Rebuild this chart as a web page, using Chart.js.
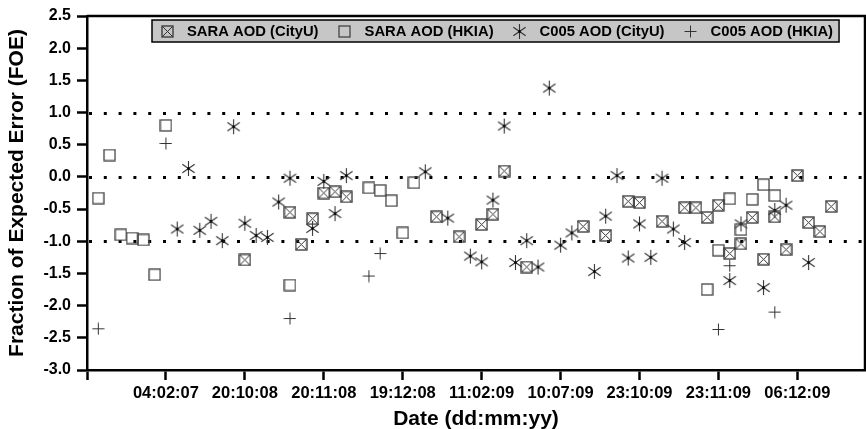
<!DOCTYPE html>
<html>
<head>
<meta charset="utf-8">
<script src="https://cdn.jsdelivr.net/npm/chart.js@4/dist/chart.umd.min.js"></script>
<style>
  html, body { margin: 0; padding: 0; background: #fff; }
  #wrap { width: 866px; height: 429px; }
</style>
</head>
<body>
<div id="wrap"><canvas id="foeChart" width="866" height="429"></canvas></div>
<script>
/* ── Data (observation index on x, FOE on y) ── */
const tickPos    = [0, 7, 14, 21, 28, 35, 42, 49, 56, 63];
const tickLabels = ['', '04:02:07', '20:10:08', '20:11:08', '19:12:08', '11:02:09',
                    '10:07:09', '23:10:09', '23:11:09', '06:12:09'];
const refLines   = [1, 0, -1];

const saraCityX = [14, 18, 19, 20, 21, 22, 23, 31, 33, 35, 36, 37, 39, 44, 46, 48, 49,
                   51, 53, 54, 55, 56, 57, 58, 59, 60, 61, 62, 63, 64, 65, 66];
const saraCityY = [-1.29, -0.55, -1.05, -0.65, -0.25, -0.23, -0.31, -0.62, -0.93, -0.74, -0.58,
                   0.09, -1.40, -0.77, -0.91, -0.38, -0.40, -0.69, -0.48, -0.48, -0.63, -0.44,
                   -1.19, -1.04, -0.63, -1.28, -0.62, -1.13, 0.02, -0.71, -0.85, -0.46];

const saraHkiaX = [1, 2, 3, 4, 5, 6, 7, 18, 25, 26, 27, 28, 29, 55, 56, 57, 58, 59, 60, 61];
const saraHkiaY = [-0.33, 0.34, -0.90, -0.95, -0.98, -1.52, 0.80, -1.68, -0.17, -0.21, -0.37,
                   -0.87, -0.09, -1.75, -1.14, -0.34, -0.82, -0.35, -0.12, -0.29];

const c005CityX = [8, 9, 10, 11, 12, 13, 14, 15, 16, 17, 18, 20, 21, 22, 23, 30, 32, 34, 35, 36,
                   37, 38, 39, 40, 41, 42, 43, 45, 46, 47, 48, 49, 50, 51, 52, 53, 57, 58, 60,
                   61, 62, 64];
const c005CityY = [-0.81, 0.13, -0.83, -0.69, -0.99, 0.78, -0.72, -0.91, -0.94, -0.39, -0.02,
                   -0.80, -0.07, -0.57, 0.02, 0.08, -0.64, -1.23, -1.32, -0.36, 0.79, -1.33,
                   -0.99, -1.40, 1.38, -1.06, -0.87, -1.47, -0.61, 0.02, -1.26, -0.73, -1.25,
                   -0.02, -0.81, -1.02, -1.61, -0.73, -1.72, -0.52, -0.44, -1.33];

const c005HkiaX = [1, 7, 18, 25, 26, 56, 57, 61];
const c005HkiaY = [-2.36, 0.52, -2.20, -1.54, -1.19, -2.37, -1.38, -2.10];

const FONT = '"Liberation Sans", Arial, sans-serif';

/* ── Marker glyphs ── */
function makeMarker(size, draw) {
  const c = document.createElement('canvas');
  c.width = c.height = size;
  const g = c.getContext('2d');
  draw(g, size);
  return c;
}

const mkBoxX = makeMarker(13, (g, s) => {
  g.strokeStyle = '#333'; g.lineWidth = 1.3;
  g.strokeRect(1, 1, s - 2, s - 2);
  g.beginPath();
  g.moveTo(1.5, 1.5); g.lineTo(s - 1.5, s - 1.5);
  g.moveTo(s - 1.5, 1.5); g.lineTo(1.5, s - 1.5);
  g.lineWidth = 1; g.stroke();
});
const mkBox = makeMarker(13, (g, s) => {
  g.strokeStyle = '#444'; g.lineWidth = 1.3;
  g.strokeRect(1, 1, s - 2, s - 2);
});
const mkStar = makeMarker(17, (g, s) => {
  const c = s / 2, r = 7.5;
  g.strokeStyle = '#333'; g.lineWidth = 1.1;
  g.beginPath();
  [90, 35, 145].forEach(a => {
    const dx = r * Math.cos(a * Math.PI / 180), dy = r * Math.sin(a * Math.PI / 180);
    g.moveTo(c - dx, c - dy); g.lineTo(c + dx, c + dy);
  });
  g.stroke();
  g.fillStyle = '#000';
  g.fillRect(c - 1.2, c - 1.2, 2.4, 2.4);
});
const mkPlus = makeMarker(13, (g, s) => {
  g.strokeStyle = '#333'; g.lineWidth = 1;
  g.beginPath();
  g.moveTo(0.5, s / 2); g.lineTo(s - 0.5, s / 2);
  g.moveTo(s / 2, 0.5); g.lineTo(s / 2, s - 0.5);
  g.stroke();
});

const toPoints = (xs, ys) => xs.map((x, i) => ({ x, y: ys[i] }));

const series = [
  { label: 'SARA AOD (CityU)', xs: saraCityX, ys: saraCityY, mk: mkBoxX },
  { label: 'SARA AOD (HKIA)',  xs: saraHkiaX, ys: saraHkiaY, mk: mkBox },
  { label: 'C005 AOD (CityU)', xs: c005CityX, ys: c005CityY, mk: mkStar },
  { label: 'C005 AOD (HKIA)',  xs: c005HkiaX, ys: c005HkiaY, mk: mkPlus }
];

/* ── Dotted reference lines + frame ── */
const refLinePlugin = {
  id: 'refLines',
  beforeDatasetsDraw(chart) {
    const { ctx, chartArea: a, scales: { y } } = chart;
    ctx.save();
    ctx.strokeStyle = '#000';
    ctx.lineWidth = 3;
    ctx.setLineDash([3, 11.8]);
    refLines.forEach(v => {
      const py = Math.round(y.getPixelForValue(v)) + 0.5;
      ctx.beginPath();
      ctx.moveTo(a.left + 2, py);
      ctx.lineTo(a.right, py);
      ctx.stroke();
    });
    ctx.restore();
  },
  afterDraw(chart) {
    const { ctx, chartArea: a } = chart;
    ctx.save();
    ctx.strokeStyle = '#000';
    ctx.lineWidth = 2.5;
    ctx.beginPath();
    ctx.moveTo(a.left, a.top); ctx.lineTo(a.right, a.top); ctx.lineTo(a.right, a.bottom);
    ctx.stroke();
    ctx.restore();
  }
};

/* ── Legend box inside plot ── */
const legendPlugin = {
  id: 'boxLegend',
  afterDraw(chart) {
    const { ctx } = chart;
    const top = 20, h = 22, left = 152;
    const padL = 15, gapText = 20, gapNext = 26, padR = 6;
    ctx.save();
    ctx.font = 'bold 14.8px ' + FONT;
    const items = series.map(s => ({ s, w: ctx.measureText(s.label).width }));
    let right = left + padL;
    items.forEach((it, i) => { right += gapText + it.w + (i < items.length - 1 ? gapNext : padR); });
    ctx.fillStyle = '#c6c6c6';
    ctx.fillRect(left, top, right - left, h);
    ctx.strokeStyle = '#000';
    ctx.lineWidth = 1.5;
    ctx.strokeRect(left, top, right - left, h);
    ctx.textBaseline = 'middle';
    ctx.fillStyle = '#000';
    let x = left + padL;
    items.forEach(({ s, w }) => {
      ctx.drawImage(s.mk, Math.round(x - s.mk.width / 2), Math.round(top + h / 2 - s.mk.height / 2));
      ctx.fillText(s.label, x + gapText, top + h / 2 + 1);
      x += gapText + w + gapNext;
    });
    ctx.restore();
  }
};

new Chart(document.getElementById('foeChart'), {
  type: 'scatter',
  data: {
    datasets: series.map(s => ({
      label: s.label,
      data: toPoints(s.xs, s.ys),
      pointStyle: s.mk,
      pointRadius: 6,
      showLine: false
    }))
  },
  options: {
    responsive: false,
    animation: false,
    devicePixelRatio: 1,
    layout: { autoPadding: false, padding: { left: 0, right: 1, top: 16, bottom: 0 } },
    plugins: { legend: { display: false }, tooltip: { enabled: false } },
    scales: {
      x: {
        type: 'linear', min: 0, max: 69,
        afterBuildTicks: s => { s.ticks = tickPos.map(v => ({ value: v })); },
        afterFit: s => { s.height = 59; s.paddingRight = 0; s.paddingLeft = 0; },
        grid: { drawOnChartArea: false, drawTicks: true, tickLength: 10, tickWidth: 2.5, tickColor: '#000' },
        border: { display: true, color: '#000', width: 2.5 },
        ticks: {
          autoSkip: false, maxRotation: 0, padding: 4, color: '#000',
          font: { family: FONT, size: 16.5, weight: 'bold' },
          callback: v => { const i = tickPos.indexOf(v); return i >= 0 ? tickLabels[i] : ''; }
        },
        title: {
          display: true, text: 'Date (dd:mm:yy)', color: '#000',
          font: { family: FONT, size: 21, weight: 'bold' }, padding: { top: 0, bottom: -3 }
        }
      },
      y: {
        min: -3, max: 2.5,
        afterFit: s => { s.width = 87; },
        grid: { drawOnChartArea: false, drawTicks: true, tickLength: 10, tickWidth: 2.5, tickColor: '#000' },
        border: { display: true, color: '#000', width: 2.5 },
        ticks: {
          stepSize: 0.5, padding: 6, color: '#000',
          font: { family: FONT, size: 16, weight: 'bold' },
          callback: v => v.toFixed(1)
        },
        title: {
          display: true, text: 'Fraction of Expected Error (FOE)', color: '#000',
          font: { family: FONT, size: 21, weight: 'bold' }, padding: { top: 5, bottom: 0 }
        }
      }
    }
  },
  plugins: [refLinePlugin, legendPlugin]
});
</script>
</body>
</html>
